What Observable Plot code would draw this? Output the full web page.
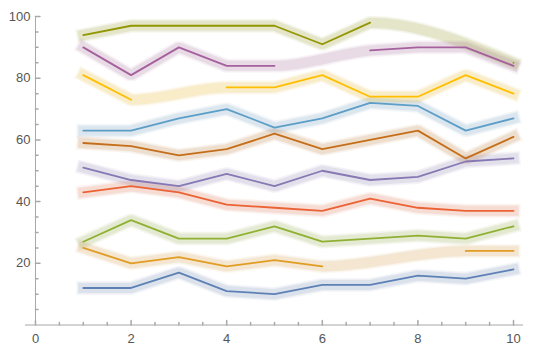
<!DOCTYPE html>
<html><head><meta charset="utf-8">
<script src="https://cdn.jsdelivr.net/npm/d3@7"></script>
<script src="https://cdn.jsdelivr.net/npm/@observablehq/plot@0.6"></script>
<style>body{margin:0;background:#fff}</style>
</head><body><div id="chart"></div>
<script>
// x positions
const xs = [1, 2, 3, 4, 5, 6, 7, 8, 9, 10];
// series values (null = missing)
const s1  = [12, 12, 17, 11, 10, 13, 13, 16, 15, 18];
const s2  = [25, 20, 22, 19, 21, 19, null, null, 24, 24];
const s3  = [27, 34, 28, 28, 32, 27, 28, 29, 28, 32];
const s4  = [43, 45, 43, 39, 38, 37, 41, 38, 37, 37];
const s5  = [51, 47, 45, 49, 45, 50, 47, 48, 53, 54];
const s6  = [59, 58, 55, 57, 62, 57, 60, 63, 54, 61];
const s7  = [63, 63, 67, 70, 64, 67, 72, 71, 63, 67];
const s8  = [81, 73, null, 77, 77, 81, 74, 74, 81, 75];
const s9  = [90, 81, 90, 84, 84, null, 89, 90, 90, 84];
const s10 = [94, 97, 97, 97, 97, 91, 98, null, null, 85];
const colors = ["#5E81B5", "#E19C24", "#8FB032", "#EB6235", "#8778B3",
                "#C56E1A", "#5D9EC7", "#FFBF00", "#A5609D", "#929600"];
// ticks
const xMajorTicks = [0, 2, 4, 6, 8, 10];
const xMinorTicks = [0.5, 1, 1.5, 2.5, 3, 3.5, 4.5, 5, 5.5, 6.5, 7, 7.5, 8.5, 9, 9.5];
const yMajorTicks = [20, 40, 60, 80, 100];
const yMinorTicks = [5, 10, 15, 25, 30, 35, 45, 50, 55, 65, 70, 75, 85, 90, 95];

const series = [s1, s2, s3, s4, s5, s6, s7, s8, s9, s10];
const rows = series.flatMap((vals, i) => xs.map((x, j) => ({series: i, x, y: vals[j]})));
const bandRows = rows.filter(d => d.y != null);
const axisColor = "#a8a8a8";
const labelColor = "#555";

// Curve: straight between adjacent samples, smooth (monotone Hermite) across missing samples
function gapCurve(context) {
  let pts;
  return {
    areaStart() {}, areaEnd() {},
    lineStart() { pts = []; },
    point(x, y) { pts.push([+x, +y]); },
    lineEnd() {
      const n = pts.length;
      if (!n) return;
      context.moveTo(pts[0][0], pts[0][1]);
      if (n < 2) { context.lineTo(pts[0][0], pts[0][1]); return; }
      const h = [], s = [];
      for (let i = 0; i < n - 1; i++) {
        h[i] = pts[i + 1][0] - pts[i][0];
        s[i] = (pts[i + 1][1] - pts[i][1]) / h[i];
      }
      const t = new Array(n).fill(0);
      for (let i = 1; i < n - 1; i++) {
        const p = (s[i - 1] * h[i] + s[i] * h[i - 1]) / (h[i - 1] + h[i]);
        t[i] = (Math.sign(s[i - 1]) + Math.sign(s[i])) *
          Math.min(Math.abs(s[i - 1]), Math.abs(s[i]), 0.5 * Math.abs(p)) || 0;
      }
      t[0] = n > 2 ? (3 * s[0] - t[1]) / 2 : s[0];
      t[n - 1] = n > 2 ? (3 * s[n - 2] - t[n - 2]) / 2 : s[n - 2];
      const step = Math.min(...h.map(Math.abs));
      for (let i = 0; i < n - 1; i++) {
        const [x0, y0] = pts[i], [x1, y1] = pts[i + 1];
        if (Math.abs(h[i]) > 1.5 * step) {
          const dx = h[i] / 3;
          context.bezierCurveTo(x0 + dx, y0 + dx * t[i], x1 - dx, y1 - dx * t[i + 1], x1, y1);
        } else {
          context.lineTo(x1, y1);
        }
      }
    }
  };
}

const bandOpts = {x: "x", y: "y", z: "series", curve: gapCurve, strokeLinecap: "square", strokeLinejoin: "miter"};

const plot = Plot.plot({
  width: 540, height: 354,
  marginLeft: 25, marginRight: 17, marginTop: 16, marginBottom: 29.5,
  x: {domain: [-0.209, 10.209], axis: null},
  y: {domain: [0, 100], axis: null},
  color: {domain: d3.range(colors.length), range: colors},
  style: {fontFamily: "'Liberation Sans', Arial, sans-serif", fontSize: "13px", background: "#fff"},
  marks: [
    Plot.line(bandRows, {...bandOpts, stroke: "series", strokeWidth: 14, strokeOpacity: 0.07}),
    Plot.line(bandRows, {...bandOpts, stroke: "#7a7a7a", strokeWidth: 12, strokeOpacity: 0.045}),
    Plot.line(bandRows, {...bandOpts, stroke: "series", strokeWidth: 10, strokeOpacity: 0.13}),
    Plot.line(rows, {x: "x", y: "y", z: "series", stroke: "series", strokeWidth: 1.8}),
    Plot.ruleY([0], {stroke: axisColor}),
    Plot.ruleX([0], {stroke: axisColor}),
    Plot.vector(xMajorTicks, {x: d => d, y: 0, length: 4.5, r: 0, anchor: "start", stroke: axisColor}),
    Plot.vector(xMinorTicks, {x: d => d, y: 0, length: 2.5, r: 0, anchor: "start", stroke: axisColor}),
    Plot.vector(yMajorTicks, {x: 0, y: d => d, length: 4.5, r: 0, rotate: 90, anchor: "start", stroke: axisColor}),
    Plot.vector(yMinorTicks, {x: 0, y: d => d, length: 2.5, r: 0, rotate: 90, anchor: "start", stroke: axisColor}),
    Plot.text(xMajorTicks, {x: d => d, y: 0, text: d => String(d), dy: 14, fill: labelColor}),
    Plot.text(yMajorTicks, {x: 0, y: d => d, text: d => String(d), dx: -5, textAnchor: "end", fill: labelColor})
  ]
});
document.getElementById("chart").appendChild(plot);
</script>
</body></html>
